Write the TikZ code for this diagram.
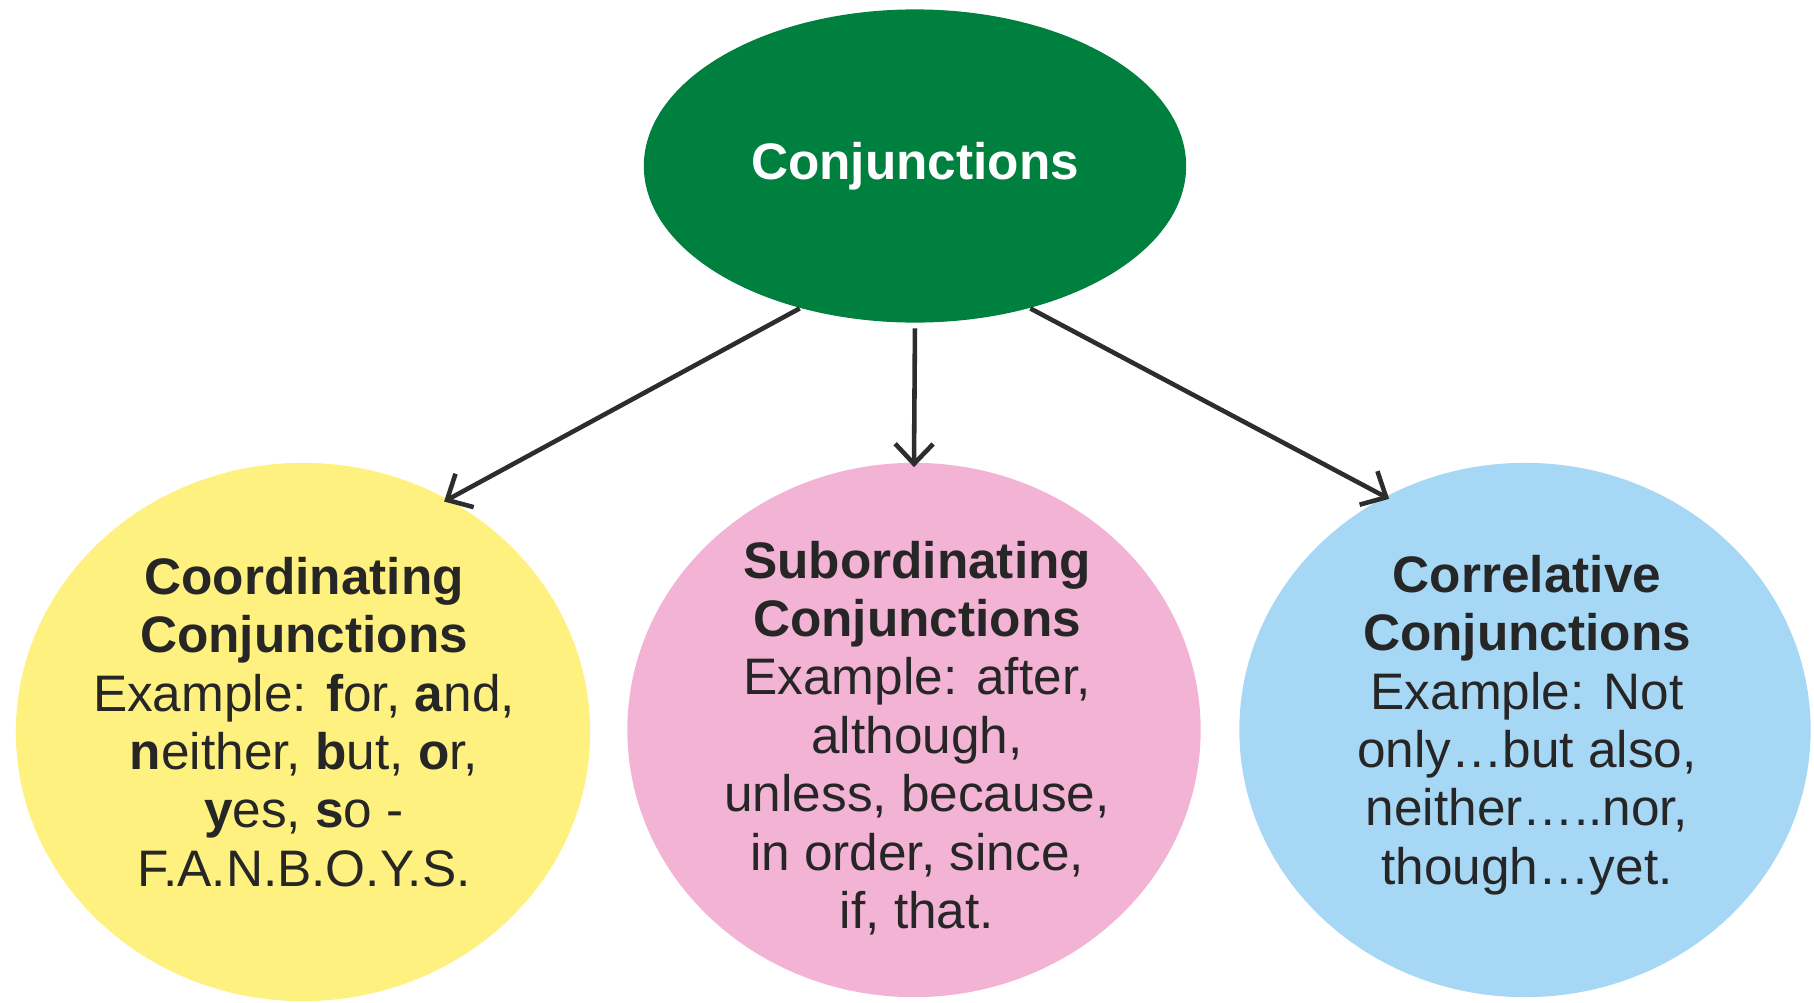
\documentclass[tikz,border=0pt]{standalone}
\usepackage{fontspec}
\setmainfont{Liberation Sans}
\usetikzlibrary{arrows.meta,shapes.geometric}
\definecolor{topgreen}{RGB}{0,128,62}
\definecolor{coordyellow}{RGB}{255,241,128}
\definecolor{subpink}{RGB}{243,179,212}
\definecolor{correlblue}{RGB}{166,215,245}
\definecolor{inktext}{RGB}{38,38,38}
\definecolor{inkline}{RGB}{45,45,45}
\newcommand{\txtsize}{\fontsize{14.6}{16.6}\selectfont}

\begin{document}
\begin{tikzpicture}[x=0.01cm,y=-0.01cm,
    blob/.style={ellipse,inner sep=-1cm},
    blobtext/.style={align=center,text=inktext,font=\txtsize,inner sep=0pt},
    link/.style={draw=inkline,line width=1.3pt,shorten >=-0.05cm,-{Straight Barb[length=2mm,width=3.8mm,line width=1.3pt]}}]
        \useasboundingbox (0,0) rectangle (1814,1003);
        % top
        \node[blob,fill=topgreen,minimum width=5.42cm,minimum height=3.13cm] (conj) at (915,166) {};
        \node[blobtext,text=white] (conjtext) at (915,166) {\bfseries Conjunctions};
        % three kinds
        \node[blob,fill=coordyellow,minimum width=5.74cm,minimum height=5.38cm] (coord) at (303,732) {};
        \node[blobtext] (coordtext) at (304,722)
            {\bfseries Coordinating\\\bfseries Conjunctions\\Example: \textbf{f}or, \textbf{a}nd,\\\textbf{n}either, \textbf{b}ut, \textbf{o}r,\\\textbf{y}es, \textbf{s}o -\\F.A.N.B.O.Y.S.};
        \node[blob,fill=subpink,minimum width=5.73cm,minimum height=5.34cm] (subord) at (914,730) {};
        \node[blobtext] (subordtext) at (917,738)
            {\bfseries Subordinating\\\bfseries Conjunctions\\Example: after,\\although,\\unless, because,\\in order, since,\\if, that.};
        \node[blob,fill=correlblue,minimum width=5.71cm,minimum height=5.34cm] (correl) at (1525,730) {};
        \node[blobtext] (correltext) at (1527,725)
            {\bfseries Correlative\\\bfseries Conjunctions\\Example: Not\\only…but also,\\neither…..nor,\\though…yet.};
        % arrows
        \draw[link] (conj.231) -- (coord.58);
        \draw[link,shorten <=0.05cm] (conj.south) -- (subord.north);
        \draw[link] (conj.309) -- (correl.121);
    \end{tikzpicture}
\end{document}
